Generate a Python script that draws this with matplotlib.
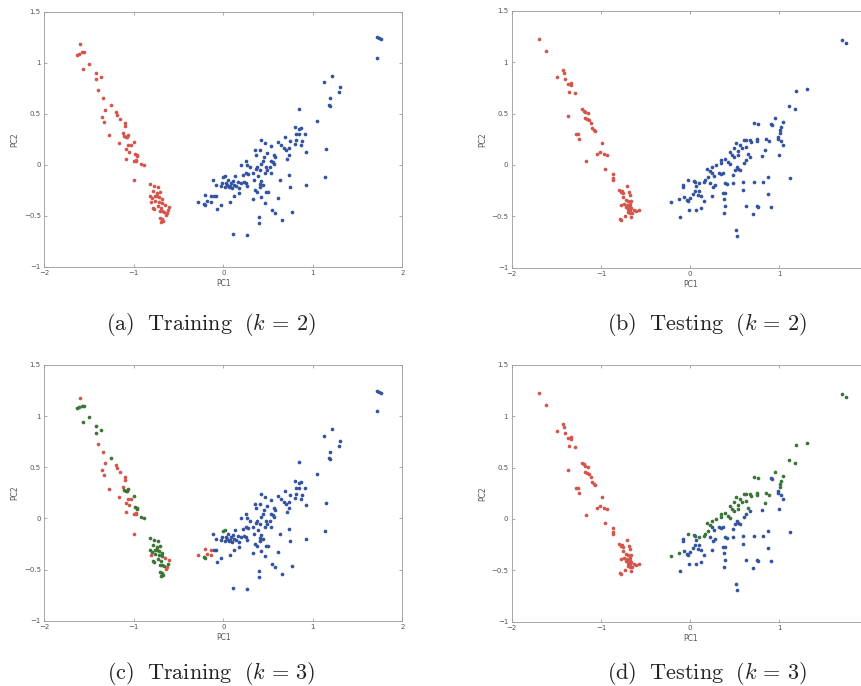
import matplotlib
matplotlib.use("Agg")
import matplotlib.pyplot as plt
import numpy as np

plt.rcParams["mathtext.fontset"] = "cm"

# ---------------------------------------------------------------------------
# Data: PCA scores, grouped by cluster label for k=2 / k=3
# ---------------------------------------------------------------------------

# training set: red for k=2, red for k=3
tr_rr_x = [-1.60, -1.40, -1.34, -1.32, -1.20, -1.19, -1.36, -1.33, -1.15, -1.10,
           -1.10, -1.28, -1.12, -1.17, -1.07, -1.03, -1.05, -1.09, -1.09, -1.00,
           -0.98, -0.97, -1.00, -0.81, -0.65, -0.61, -0.64, -0.63]
tr_rr_y = [1.18, 0.73, 0.65, 0.54, 0.52, 0.49, 0.47, 0.42, 0.45, 0.41,
           0.38, 0.29, 0.31, 0.21, 0.19, 0.19, 0.13, 0.15, 0.06, 0.04,
           0.04, 0.05, -0.15, -0.36, -0.39, -0.41, -0.49, -0.47]

# training set: red for k=2, green for k=3
tr_rg_x = [-1.64, -1.61, -1.58, -1.56, -1.50, -1.57, -1.42, -1.42, -1.37, -1.25,
           -1.11, -1.09, -1.07, -1.08, -1.00, -0.99, -0.96, -0.96, -0.92, -0.89,
           -0.82, -0.77, -0.73, -0.79, -0.74, -0.71, -0.82, -0.80, -0.76, -0.74,
           -0.72, -0.76, -0.72, -0.68, -0.69, -0.73, -0.70, -0.79, -0.71, -0.68,
           -0.66, -0.62, -0.71, -0.69, -0.67, -0.70, -0.77]
tr_rg_y = [1.08, 1.09, 1.10, 1.10, 0.99, 0.94, 0.90, 0.84, 0.86, 0.59,
           0.28, 0.27, 0.29, 0.27, 0.22, 0.11, 0.10, 0.09, 0.01, 0.00,
           -0.19, -0.21, -0.22, -0.26, -0.28, -0.27, -0.31, -0.33, -0.31, -0.31,
           -0.32, -0.35, -0.36, -0.34, -0.37, -0.40, -0.42, -0.42, -0.45, -0.45,
           -0.46, -0.44, -0.52, -0.53, -0.55, -0.56, -0.43]

# training set: blue for k=2, red for k=3
tr_br_x = [-0.28, -0.21, -0.18, -0.14, -0.14]
tr_br_y = [-0.36, -0.30, -0.35, -0.31, -0.36]

# training set: blue for k=2, green for k=3
tr_bg_x = [-0.22, -0.20, 0.00, 0.02]
tr_bg_y = [-0.38, -0.39, -0.12, -0.11]

# training set: blue for both
tr_bb_x = [-0.10, -0.08, -0.11, -0.08, -0.07, -0.03,
           0.05, 0.09, 0.12, 0.14, 0.10, 0.06, 0.02, -0.02, 0.16, 0.20,
           0.23, 0.18, 0.27, 0.25, 0.04, 0.08, 0.11, 0.03, -0.03, 0.07,
           0.12, 0.18, 0.34, 0.35, 0.38, 0.41, 0.44, 0.33, 0.42, 0.47,
           0.48, 0.50, 0.61, 0.63, 0.75, 0.92, 1.14, 0.40, 0.40, 0.54,
           0.58, 0.66, 0.77, 0.11, 0.26, 0.13, 0.22, 0.25, 0.28, 0.33,
           0.39, 0.42, 0.41, 0.73, 0.47, 0.53, 0.48, 0.49, 0.52, 0.36,
           0.38, 0.41, 0.25, 0.20, 0.27, 0.30, 0.44, 0.42, 0.53, 0.56,
           0.57, 0.71, 0.73, 0.57, 0.58, 0.49, 0.45, 0.92, 1.15, 0.68,
           0.70, 0.73, 0.75, 0.53, 0.35, 0.41, 0.36, 0.42, 0.47, 0.61,
           0.64, 0.88, 0.87, 0.81, 0.80, 0.69, 0.91, 0.81, 0.85, 0.80,
           0.85, 0.87, 1.05, 0.85, 1.18, 1.19, 1.19, 1.29, 1.30, 1.22,
           1.12, 1.72, 1.72, 1.74, 1.76]
tr_bb_y = [-0.31, -0.31, -0.15, -0.20, -0.43, -0.39,
           -0.15, -0.18, -0.20, -0.21, -0.23, -0.22, -0.22, -0.18, -0.17, -0.18,
           -0.17, -0.23, -0.21, -0.18, -0.20, -0.21, -0.16, -0.18, -0.21, -0.36,
           -0.31, -0.28, -0.15, -0.25, -0.27, -0.22, -0.20, -0.34, -0.32, -0.37,
           -0.27, -0.27, -0.33, -0.15, -0.22, -0.20, -0.12, -0.51, -0.57, -0.44,
           -0.47, -0.54, -0.46, -0.68, -0.69, -0.11, -0.10, -0.08, -0.09, -0.08,
           -0.11, -0.16, -0.19, -0.10, -0.08, -0.08, -0.02, -0.05, -0.02, -0.04,
           -0.02, -0.05, 0.04, 0.00, 0.00, -0.02, 0.04, 0.01, 0.04, 0.03,
           0.01, 0.06, 0.10, 0.10, 0.08, 0.12, 0.08, 0.13, 0.15, 0.16,
           0.14, 0.16, 0.23, 0.18, 0.14, 0.14, 0.10, 0.24, 0.21, 0.22,
           0.19, 0.23, 0.19, 0.24, 0.20, 0.27, 0.30, 0.30, 0.30, 0.37,
           0.35, 0.36, 0.43, 0.55, 0.59, 0.58, 0.65, 0.71, 0.76, 0.87,
           0.81, 1.05, 1.25, 1.24, 1.23]

# testing set: red for both
te_rr_x = [-1.69, -1.61, -1.49, -1.42, -1.41, -1.40, -1.37, -1.34, -1.33, -1.36,
           -1.29, -1.37, -1.21, -1.19, -1.18, -1.15, -1.18, -1.16, -1.13, -1.11,
           -1.10, -1.08, -1.07, -1.28, -1.26, -1.25, -0.99, -1.17, -1.04, -1.01,
           -0.97, -0.93, -0.95, -0.86, -0.87, -0.87, -0.80, -0.78, -0.76, -0.75,
           -0.71, -0.69, -0.68, -0.75, -0.72, -0.70, -0.66, -0.78, -0.74, -0.72,
           -0.70, -0.68, -0.67, -0.66, -0.68, -0.70, -0.63, -0.61, -0.57, -0.79,
           -0.77, -0.73, -0.66, -0.69, -0.65, -0.71, -0.69, -0.67]
te_rr_y = [1.23, 1.11, 0.86, 0.92, 0.90, 0.84, 0.79, 0.78, 0.80, 0.71,
           0.70, 0.48, 0.54, 0.53, 0.52, 0.51, 0.46, 0.45, 0.44, 0.41,
           0.36, 0.34, 0.33, 0.30, 0.30, 0.25, 0.21, 0.04, 0.11, 0.13,
           0.11, 0.10, -0.04, -0.09, -0.13, -0.15, -0.24, -0.26, -0.25, -0.27,
           -0.21, -0.26, -0.29, -0.31, -0.34, -0.35, -0.35, -0.39, -0.38, -0.41,
           -0.43, -0.41, -0.44, -0.42, -0.47, -0.46, -0.44, -0.45, -0.44, -0.53,
           -0.54, -0.50, -0.51, -0.45, -0.47, -0.39, -0.40, -0.38]

# testing set: blue for k=2, green for k=3
te_bg_x = [1.70, 1.75, 1.18, 1.31, 1.11, 1.17, 0.71, 0.76, 0.95, 1.04,
           1.02, 1.01, 1.01, 0.85, 0.88, 0.84, 0.75, 0.75, 0.67, 0.68,
           0.60, 0.63, 0.51, 0.56, 0.49, 0.45, 0.47, 0.49, 0.54, 0.58,
           0.65, 0.39, 0.42, 0.45, 0.34, 0.35, 0.29, 0.24, 0.19, 0.22,
           0.15, 0.17, 0.20, 0.04, 0.10, -0.03, -0.13, -0.21, 0.53, 0.62]
te_bg_y = [1.22, 1.19, 0.72, 0.74, 0.57, 0.54, 0.41, 0.40, 0.46, 0.42,
           0.37, 0.34, 0.31, 0.25, 0.23, 0.15, 0.25, 0.23, 0.24, 0.22,
           0.24, 0.24, 0.21, 0.19, 0.16, 0.13, 0.10, 0.08, 0.14, 0.16,
           0.11, 0.06, 0.03, 0.01, 0.05, 0.02, 0.00, -0.02, -0.04, -0.06,
           -0.17, -0.15, -0.12, -0.16, -0.18, -0.15, -0.33, -0.36, 0.10, 0.17]

# testing set: blue for both
te_bb_x = [0.91, 0.92, 0.98, 0.98, 1.04, 0.99, 1.02, 0.80, 0.63, 0.67,
           0.52, 0.54, 0.56, 0.50, 0.24, 0.27, 0.32, 0.35, 0.37, 0.39,
           0.41, 0.48, 0.22, 0.26, 0.28, 0.05, 0.06, 0.05, 0.03, 0.09,
           0.12, 0.10, -0.08, -0.08, -0.07, -0.04, -0.02, 0.00, -0.11, -0.01,
           0.06, 0.12, 0.16, 0.24, 0.37, 0.39, 0.38, 0.39, 0.38, 0.48,
           0.59, 0.59, 0.63, 0.75, 0.76, 0.70, 0.72, 0.81, 0.87, 0.87,
           0.90, 1.12, 0.51, 0.52, 0.60]
te_bb_y = [0.40, 0.39, 0.27, 0.25, 0.19, 0.10, 0.23, 0.09, 0.05, 0.08,
           -0.02, -0.04, -0.05, -0.05, -0.08, -0.11, -0.08, -0.09, -0.08, -0.18,
           -0.19, -0.10, -0.18, -0.22, -0.20, -0.17, -0.21, -0.25, -0.28, -0.29,
           -0.30, -0.25, -0.20, -0.22, -0.31, -0.34, -0.35, -0.32, -0.51, -0.44,
           -0.44, -0.42, -0.35, -0.30, -0.27, -0.27, -0.33, -0.40, -0.47, -0.18,
           -0.17, -0.24, -0.40, -0.40, -0.41, -0.48, -0.17, -0.17, -0.12, -0.28,
           -0.41, -0.13, -0.63, -0.69, 0.02]

captions = [r"$\mathrm{(a)\ \ Training\ \ (}k\,=\,2\mathrm{)}$",
            r"$\mathrm{(b)\ \ Testing\ \ (}k\,=\,2\mathrm{)}$",
            r"$\mathrm{(c)\ \ Training\ \ (}k\,=\,3\mathrm{)}$",
            r"$\mathrm{(d)\ \ Testing\ \ (}k\,=\,3\mathrm{)}$"]

x_ticks = [-2, -1, 0, 1, 2]
x_ticklabels = ["\u22122", "\u22121", "0", "1", "2"]
# the right-hand column is cropped before x=2, so its last label is not shown
x_ticklabels_cropped = ["\u22122", "\u22121", "0", "1", ""]
y_ticks = [-1, -0.5, 0, 0.5, 1, 1.5]
y_ticklabels = ["\u22121", "\u22120.5", "0", "0.5", "1", "1.5"]

RED = "#d2564c"
BLUE = "#34549f"
GREEN = "#3b7636"


def style_axes(ax, xlabels):
    ax.set_xlim(-2, 2)
    ax.set_ylim(-1, 1.5)
    ax.set_xticks(x_ticks)
    ax.set_xticklabels(xlabels)
    ax.set_yticks(y_ticks)
    ax.set_yticklabels(y_ticklabels)
    ax.tick_params(direction="in", top=True, right=True, length=2.5, width=0.5,
                   labelsize=5, labelcolor="#555555", color="#888888", pad=2.5)
    for sp in ax.spines.values():
        sp.set_color("#9a9a9a")
        sp.set_linewidth(0.6)
    ax.set_xlabel("PC1", fontsize=5.5, color="#555555", labelpad=2)
    ax.set_ylabel("PC2", fontsize=5.5, color="#555555", labelpad=3)


def dots(ax, x, y, color):
    ax.scatter(x, y, s=7, c=color, linewidths=0, zorder=3)


fig = plt.figure(figsize=(8.62, 6.86), dpi=100)

ax_a = fig.add_axes([0.0514, 0.611, 0.4153, 0.372])
ax_b = fig.add_axes([0.5936, 0.610, 0.4142, 0.374])
ax_c = fig.add_axes([0.0514, 0.095, 0.4153, 0.373])
ax_d = fig.add_axes([0.5936, 0.094, 0.4142, 0.374])

# (a) training, k=2
dots(ax_a, tr_rr_x + tr_rg_x, tr_rr_y + tr_rg_y, RED)
dots(ax_a, tr_br_x + tr_bg_x + tr_bb_x, tr_br_y + tr_bg_y + tr_bb_y, BLUE)

# (b) testing, k=2
dots(ax_b, te_rr_x, te_rr_y, RED)
dots(ax_b, te_bg_x + te_bb_x, te_bg_y + te_bb_y, BLUE)

# (c) training, k=3
dots(ax_c, tr_rr_x + tr_br_x, tr_rr_y + tr_br_y, RED)
dots(ax_c, tr_bb_x, tr_bb_y, BLUE)
dots(ax_c, tr_rg_x + tr_bg_x, tr_rg_y + tr_bg_y, GREEN)

# (d) testing, k=3
dots(ax_d, te_rr_x, te_rr_y, RED)
dots(ax_d, te_bb_x, te_bb_y, BLUE)
dots(ax_d, te_bg_x, te_bg_y, GREEN)

style_axes(ax_a, x_ticklabels)
style_axes(ax_c, x_ticklabels)
style_axes(ax_b, x_ticklabels_cropped)
style_axes(ax_d, x_ticklabels_cropped)

cap_pos = [(0.245, 0.519), (0.820, 0.519), (0.245, 0.010), (0.820, 0.010)]
for (cx, cy), txt in zip(cap_pos, captions):
    fig.text(cx, cy, txt, ha="center", va="baseline", fontsize=16, color="#222222")

fig.savefig("out.png", dpi=100)
